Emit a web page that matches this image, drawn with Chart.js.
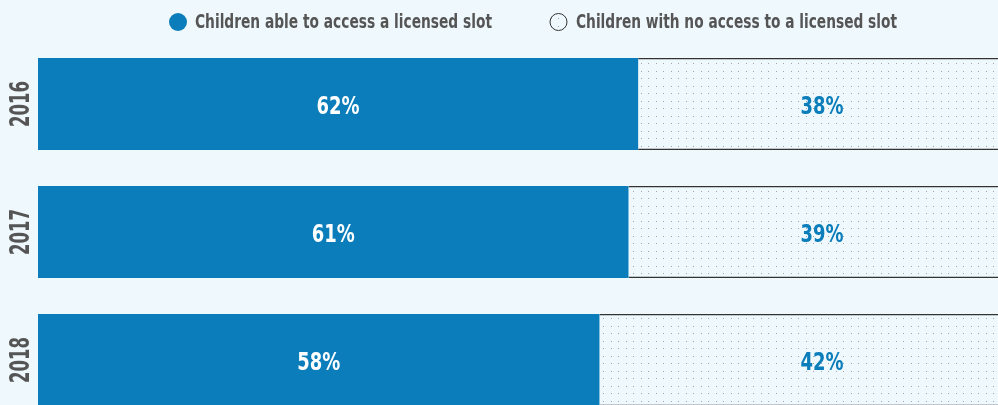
<!DOCTYPE html>
<html>
<head>
<meta charset="utf-8">
<script src="https://cdn.jsdelivr.net/npm/chart.js@4.4.0/dist/chart.umd.min.js"></script>
<style>
  html, body { margin:0; padding:0; background:#eff8fc; }
  #wrap { width:998px; height:405px; overflow:hidden; position:relative; }
  #chart { position:absolute; left:0; top:0; }
</style>
</head>
<body>
<div id="wrap"><canvas id="chart" width="1006" height="424"></canvas></div>
<script>
// data
var years = ['2016', '2017', '2018'];
var accessValues = [62, 61, 58];
var noAccessValues = [38, 39, 42];
var seriesNames = ['Children able to access a licensed slot', 'Children with no access to a licensed slot'];

var blue = '#0a7dba';
var bg = '#eff8fc';
var grey = '#555555';
var fontFam = '"DejaVu Sans Condensed", "DejaVu Sans", sans-serif';
var rightLabelAt = 81; // the "no access" labels sit in one column in the original

// dotted fill for the "no access" part
function dotPattern(){
    var c = document.createElement('canvas');
    c.width = 15; c.height = 15;
    var x = c.getContext('2d');
    x.fillStyle = bg;
    x.fillRect(0, 0, 15, 15);
    x.fillStyle = 'rgba(110,110,110,0.6)';
    [[3,3],[11,3],[3,11],[11,11]].forEach(function(p){ x.fillRect(p[0], p[1], 1, 1); });
    return document.getElementById('chart').getContext('2d').createPattern(c, 'repeat');
}
var dots = dotPattern();

// percentage labels inside the bars + year labels on the left
var barLabels = {
    id:'barLabels',
    afterDatasetsDraw:function(chart){
        var ctx = chart.ctx;
        var xs = chart.scales.x;
        ctx.save();
        ctx.font = 'bold 25px ' + fontFam;
        ctx.textAlign = 'center';
        ctx.textBaseline = 'middle';
        chart.data.datasets.forEach(function(ds, i){
            var meta = chart.getDatasetMeta(i);
            ctx.fillStyle = i == 0 ? '#ffffff' : blue;
            meta.data.forEach(function(bar, j){
                var cx = i == 0 ? (bar.x + bar.base) / 2 : xs.getPixelForValue(rightLabelAt);
                ctx.fillText(ds.data[j] + '%', cx, bar.y + 3, 43);
            });
        });
        // years, rotated
        var ys = chart.scales.y;
        ctx.fillStyle = grey;
        ctx.font = 'bold 26px ' + fontFam;
        years.forEach(function(y, i){
            ctx.save();
            ctx.translate(21, ys.getPixelForTick(i));
            ctx.rotate(-Math.PI / 2);
            ctx.fillText(y, 0, 1, 46);
            ctx.restore();
        });
        ctx.restore();
    }
};

// legend row at the top
var topLegend = {
    id:'topLegend',
    afterDraw:function(chart){
        var ctx = chart.ctx;
        var items = [
            { cx:178, r:9, text:seriesNames[0], tx:195, tw:297, fill:blue, stroke:null },
            { cx:558.5, r:8.5, text:seriesNames[1], tx:576, tw:321, fill:dots, stroke:'#333333' }
        ];
        ctx.save();
        ctx.font = 'bold 19px ' + fontFam;
        ctx.textBaseline = 'middle';
        ctx.textAlign = 'left';
        items.forEach(function(it){
            ctx.beginPath();
            ctx.arc(it.cx, 22, it.r, 0, Math.PI * 2);
            ctx.fillStyle = it.fill;
            ctx.fill();
            if (it.stroke) {
                ctx.lineWidth = 1;
                ctx.strokeStyle = it.stroke;
                ctx.stroke();
            }
            ctx.fillStyle = grey;
            ctx.fillText(it.text, it.tx, 23, it.tw);
        });
        ctx.restore();
    }
};

var chart = new Chart(document.getElementById('chart'), {
    type:'bar',
    plugins:[barLabels, topLegend],
    data:{
        labels:years,
        datasets:[{
            label:seriesNames[0],
            data:accessValues,
            backgroundColor:blue,
            borderWidth:0
        },{
            label:seriesNames[1],
            data:noAccessValues,
            backgroundColor:dots,
            borderColor:'#333333',
            borderWidth:{top:1.5, bottom:1.5, left:0, right:0},
            borderSkipped:false
        }]
    },
    options:{
        indexAxis:'y',
        responsive:false,
        animation:false,
        devicePixelRatio:1,
        layout:{ padding:{ top:40, left:0, right:0, bottom:0 } },
        datasets:{ bar:{ barPercentage:0.72, categoryPercentage:1 } },
        scales:{
            x:{ stacked:true, min:0, max:100, display:false },
            y:{
                stacked:true,
                grid:{ display:false },
                border:{ display:false },
                ticks:{ display:false },
                afterFit:function(s){ s.width = 38; }
            }
        },
        plugins:{
            tooltip:{ enabled:false },
            legend:{ display:false }
        }
    }
});
</script>
</body>
</html>
